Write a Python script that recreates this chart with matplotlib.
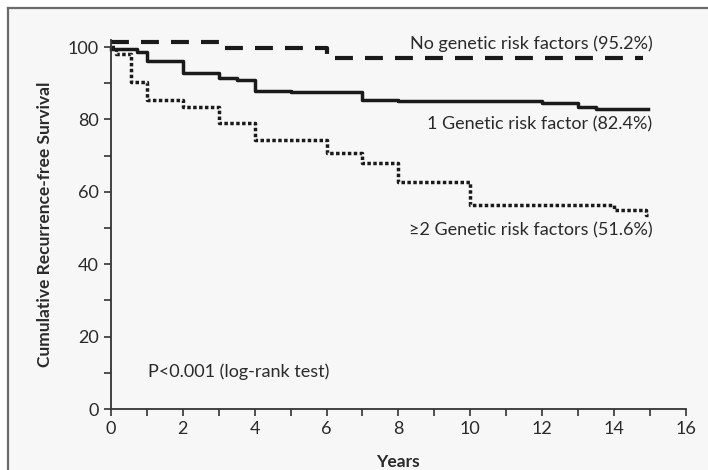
import matplotlib
matplotlib.use("Agg")
import matplotlib.pyplot as plt
from matplotlib.lines import Line2D

plt.rcParams['font.family'] = ['Lato', 'DejaVu Sans']

# Data (step functions: time in years, survival in %)
t_none = [0, 3, 6, 14.8]
s_none = [101.5, 99.7, 96.9, 96.9]

t_one = [0, 0.72, 1.0, 2.0, 3.0, 3.5, 4.0, 5.0, 7.0, 8.0, 12.0, 13.0, 13.5, 14.95]
s_one = [99.4, 98.7, 96.1, 92.7, 91.5, 90.9, 87.9, 87.5, 85.5, 85.2, 84.6, 83.4, 82.9, 82.9]

t_two = [0, 0.15, 0.55, 1.0, 2.0, 3.0, 4.0, 6.0, 7.0, 8.0, 10.0, 14.0, 14.9, 14.95]
s_two = [100, 98.2, 90.4, 85.4, 83.3, 79.0, 74.3, 70.6, 67.9, 62.8, 56.3, 55.0, 53.6, 53.6]

labels = ["No genetic risk factors (95.2%)",
          "1 Genetic risk factor (82.4%)",
          "\u22652 Genetic risk factors (51.6%)"]
pvalue_text = "P<0.001 (log-rank test)"
x_ticks = list(range(0, 17, 2))
y_ticks = list(range(0, 101, 20))

fig = plt.figure(figsize=(7.08, 4.70), dpi=100)
fig.patch.set_facecolor('white')

# light gray panel with border lines on left and top
fig.patches.append(plt.Rectangle((8/708, 0), 1, 1 - 8/470, transform=fig.transFigure,
                                 facecolor='#f7f7f7', edgecolor='none', zorder=-10))
fig.lines.append(Line2D([8/708, 8/708], [0, 1 - 8/470], transform=fig.transFigure,
                        color='#6b6b6b', lw=1.6, zorder=-5))
fig.lines.append(Line2D([8/708, 1], [1 - 8/470, 1 - 8/470], transform=fig.transFigure,
                        color='#6b6b6b', lw=1.6, zorder=-5))

ax = fig.add_axes([111/708, 1 - 409/470, (685.7 - 111)/708, (409 - 39.8)/470])
ax.set_facecolor('none')
ax.set_xlim(0, 16)
ax.set_ylim(0, 102)

lc = '#1a1a1a'
ax.step(t_none, s_none, where='post', color=lc, lw=3.0, dashes=(4.3, 2.9),
        dash_capstyle='butt', clip_on=False)
ax.step(t_one, s_one, where='post', color=lc, lw=2.5, clip_on=False)
ax.step(t_two, s_two, where='post', color=lc, lw=2.5, dashes=(1.0, 0.7),
        dash_capstyle='butt', clip_on=False)

tc = '#2a2a2a'
fs = 13
ax.text(15.07, 100.8, labels[0], ha='right', va='center', fontsize=fs, color=tc)
ax.text(15.07, 78.5, labels[1], ha='right', va='center', fontsize=fs, color=tc)
ax.text(15.07, 49.4, labels[2], ha='right', va='center', fontsize=fs, color=tc)
ax.text(1.03, 10.2, pvalue_text, ha='left', va='center', fontsize=fs, color=tc)

for s in ['top', 'right']:
    ax.spines[s].set_visible(False)
for s in ['left', 'bottom']:
    ax.spines[s].set_color('#333333')
    ax.spines[s].set_linewidth(1.3)

ax.set_xticks(x_ticks)
ax.set_yticks(y_ticks)
ax.set_xticks(range(1, 16, 2), minor=True)
ax.set_yticks(range(10, 100, 20), minor=True)
ax.tick_params(which='major', length=5, width=1.2, color='#333333',
               labelsize=13, labelcolor=tc, pad=4)
ax.tick_params(which='minor', length=5, width=1.2, color='#333333')

ax.set_xlabel('Years', fontsize=12.5, fontweight='bold', color=tc, labelpad=12)
ax.set_ylabel('Cumulative Recurrence-free Survival', fontsize=12.5, fontweight='bold',
              color=tc, labelpad=10)

fig.savefig('out.png', dpi=100, facecolor=fig.get_facecolor())
